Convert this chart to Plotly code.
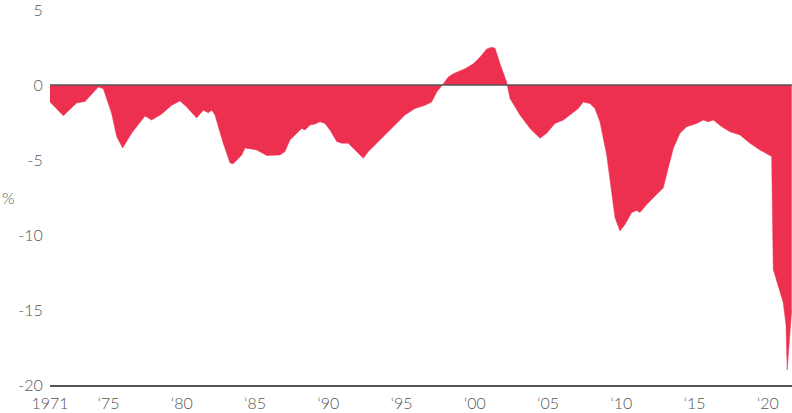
import plotly.graph_objects as go

# Decimal year of each reading and the budget balance (% of GDP)
years = [
    1971.00, 1971.91, 1972.82, 1973.39, 1974.30, 1974.64, 1975.21, 1975.55, 1975.96, 1976.58,
    1977.48, 1977.94, 1978.62, 1979.31, 1979.87, 1980.33, 1981.01, 1981.46, 1981.81, 1982.04,
    1982.26, 1982.83, 1983.29, 1983.51, 1984.09, 1984.31, 1985.11, 1985.79, 1986.70, 1987.04,
    1987.38, 1987.84, 1988.18, 1988.41, 1988.75, 1989.09, 1989.43, 1989.77, 1990.11, 1990.57,
    1990.91, 1991.36, 1991.82, 1992.39, 1992.73, 1993.18, 1993.87, 1994.55, 1995.23, 1995.91,
    1996.60, 1997.05, 1997.40, 1997.85, 1998.19, 1998.53, 1999.10, 1999.33, 1999.89, 2000.35,
    2000.81, 2001.15, 2001.38, 2001.72, 2002.17, 2002.40, 2003.08, 2003.77, 2004.22, 2004.45,
    2004.90, 2005.47, 2006.04, 2006.61, 2007.06, 2007.40, 2007.86, 2008.20, 2008.54, 2009.00,
    2009.34, 2009.57, 2009.91, 2010.25, 2010.71, 2011.05, 2011.27, 2011.73, 2012.30, 2012.86,
    2013.20, 2013.55, 2014.00, 2014.46, 2015.14, 2015.59, 2015.93, 2016.28, 2016.85, 2017.42,
    2018.10, 2018.78, 2019.46, 2020.26, 2020.37, 2021.05, 2021.24, 2021.32, 2021.63,
]
balance = [
    -1.13, -2.05, -1.20, -1.10, -0.13, -0.25, -1.90, -3.44, -4.20, -3.20,
    -2.07, -2.34, -1.94, -1.35, -1.06, -1.46, -2.20, -1.68, -1.85, -1.68,
    -2.00, -3.90, -5.20, -5.25, -4.66, -4.20, -4.33, -4.70, -4.66, -4.44,
    -3.66, -3.22, -2.90, -3.00, -2.67, -2.60, -2.45, -2.56, -3.00, -3.77,
    -3.88, -3.88, -4.33, -4.88, -4.44, -4.00, -3.33, -2.67, -2.00, -1.57,
    -1.35, -1.13, -0.46, 0.09, 0.53, 0.75, 0.97, 1.08, 1.41, 1.85,
    2.40, 2.52, 2.45, 1.41, 0.20, -0.90, -2.00, -2.90, -3.33, -3.55,
    -3.22, -2.56, -2.34, -1.90, -1.57, -1.13, -1.24, -1.57, -2.45, -4.66,
    -7.30, -8.85, -9.73, -9.30, -8.50, -8.36, -8.50, -7.97, -7.40, -6.87,
    -5.54, -4.22, -3.22, -2.78, -2.56, -2.34, -2.45, -2.34, -2.78, -3.11,
    -3.33, -3.88, -4.33, -4.77, -12.30, -14.50, -16.00, -19.00, -15.00,
]

x_tickvals = [1971, 1975, 1980, 1985, 1990, 1995, 2000, 2005, 2010, 2015, 2020]
x_ticktext = ["1971", "\u201875", "\u201880", "\u201885", "\u201890", "\u201895",
              "\u201800", "\u201805", "\u201810", "\u201815", "\u201820"]
y_tickvals = [5, 0, -5, -10, -15, -20]
y_ticktext = ["5", "0", "-5", "-10", "-15", "-20"]

RED = "#ee3050"
GREY = "#555555"
FONT = dict(family="Lato, 'Open Sans', sans-serif", size=16, color=GREY, weight=300)

fig = go.Figure()
fig.add_trace(go.Scatter(
    x=years, y=balance, mode="lines", fill="tozeroy",
    fillcolor=RED, line=dict(color=RED, width=0.5),
    hoverinfo="skip", showlegend=False,
))

fig.add_shape(type="line", xref="paper", yref="y", x0=0, x1=1, y0=0, y1=0,
              line=dict(color=GREY, width=1.5), layer="above")

fig.add_annotation(text="%", xref="paper", yref="paper", x=-50 / 742, y=0.50,
                   xanchor="left", yanchor="middle", showarrow=False,
                   font=FONT)

fig.update_layout(
    width=792, height=413,
    margin=dict(l=50, r=0, t=10, b=28, autoexpand=False),
    paper_bgcolor="white", plot_bgcolor="white",
    font=FONT,
    xaxis=dict(
        range=[1971, 2021.65], tickvals=x_tickvals, ticktext=x_ticktext,
        showgrid=False, zeroline=False, showline=True, linecolor=GREY, linewidth=1.5,
        ticks="outside", ticklen=3, tickcolor="rgba(0,0,0,0)",
        tickfont=dict(size=16), ticklabeloverflow="allow",
    ),
    yaxis=dict(
        range=[-20, 5.0], tickvals=y_tickvals, ticktext=y_ticktext,
        showgrid=False, zeroline=False, showline=False,
        ticks="outside", ticklen=3, tickcolor="rgba(0,0,0,0)",
        tickfont=dict(size=16), ticklabeloverflow="allow",
    ),
)

fig.write_html("out.html", config={"displayModeBar": False},
               post_script="document.body.style.margin='0';")
